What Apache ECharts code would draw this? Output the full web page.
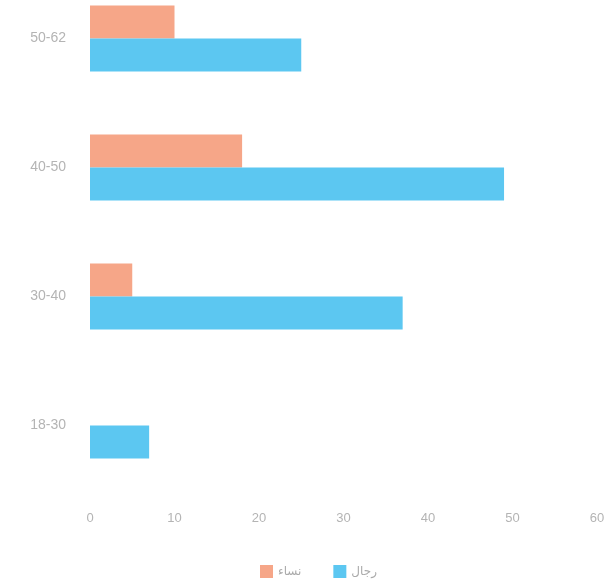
<!DOCTYPE html>
<html><head><meta charset="utf-8">
<script src="https://cdn.jsdelivr.net/npm/echarts@6/dist/echarts.min.js"></script>
<style>html,body{margin:0;padding:0;background:#fff;overflow:hidden}#c{width:612px;height:613px;margin-top:-26px}</style>
</head><body><div id="c"></div>
<script>
var categories = ['18-30', '30-40', '40-50', '50-62'];
var women = [0, 5, 18, 10];
var men = [7, 37, 49, 25];
var seriesNames = ['نساء', 'رجال'];
var xTicks = [0, 10, 20, 30, 40, 50, 60];

var chart = echarts.init(document.getElementById('c'));
chart.setOption({
  animation: false,
  color: ['#f6a688', '#5cc7f1'],
  grid: { left: 90, right: 15, top: 0, bottom: 97 },
  legend: {
    data: seriesNames, bottom: 4, left: 255,
    itemWidth: 13, itemHeight: 13, itemGap: 32, icon: 'rect',
    textStyle: { color: '#aaa', fontSize: 12, fontFamily: 'DejaVu Sans' }
  },
  xAxis: {
    type: 'value', min: xTicks[0], max: xTicks[xTicks.length - 1], interval: 10,
    axisLine: { show: false }, axisTick: { show: false }, splitLine: { show: false },
    axisLabel: { color: '#b4b4b4', fontSize: 13, margin: 22, fontFamily: 'Liberation Sans' }
  },
  yAxis: {
    type: 'category', data: categories,
    axisLine: { show: false }, axisTick: { show: false },
    axisLabel: { color: '#b4b4b4', fontSize: 14, margin: 24, fontFamily: 'Liberation Sans' }
  },
  series: [
    { name: seriesNames[0], type: 'bar', data: women, barWidth: 33, barGap: '0%' },
    { name: seriesNames[1], type: 'bar', data: men, barWidth: 33, barGap: '0%' }
  ]
});
</script></body></html>
